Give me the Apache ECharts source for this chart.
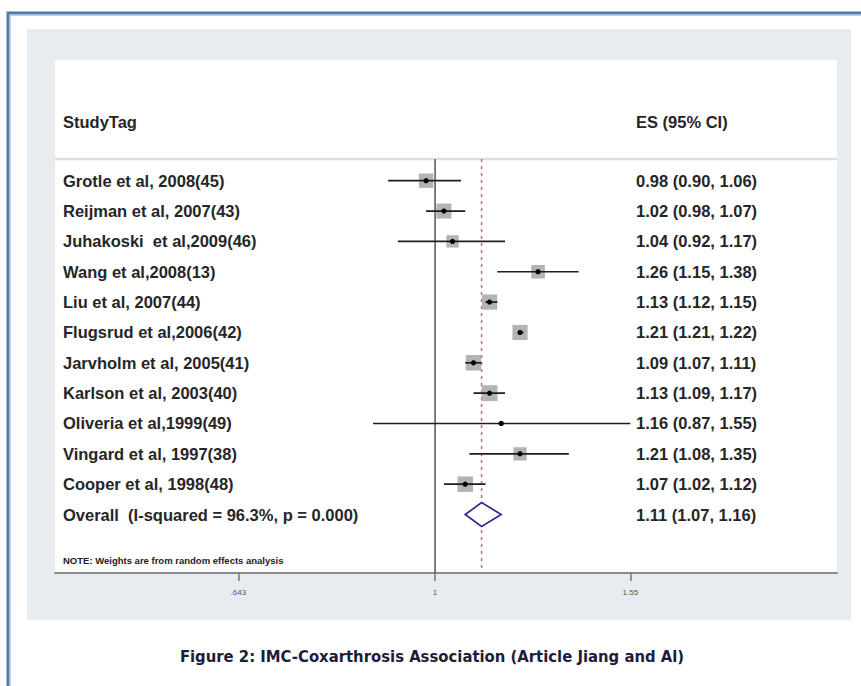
<!DOCTYPE html>
<html style="height: 100%">
<head>
    <meta charset="utf-8">
    <script src="https://cdn.jsdelivr.net/npm/echarts@6/dist/echarts.min.js"></script>
</head>
<body style="height: 100%; width: 100%; margin: 0; background-color: #ffffff;">

    <div id="container" style="width: 861px; height: 686px;"></div>

    <script type="text/javascript">

        // studies
        var studies = ['Grotle et al, 2008(45)', 'Reijman et al, 2007(43)', 'Juhakoski  et al,2009(46)',
            'Wang et al,2008(13)', 'Liu et al, 2007(44)', 'Flugsrud et al,2006(42)', 'Jarvholm et al, 2005(41)',
            'Karlson et al, 2003(40)', 'Oliveria et al,1999(49)', 'Vingard et al, 1997(38)', 'Cooper et al, 1998(48)'];
        var es = [0.98, 1.02, 1.04, 1.26, 1.13, 1.21, 1.09, 1.13, 1.16, 1.21, 1.07];
        var lower = [0.90, 0.98, 0.92, 1.15, 1.12, 1.21, 1.07, 1.09, 0.87, 1.08, 1.02];
        var upper = [1.06, 1.07, 1.17, 1.38, 1.15, 1.22, 1.11, 1.17, 1.55, 1.35, 1.12];
        // relative weights (%)
        var weights = [9.0, 9.8, 6.6, 8.0, 10.0, 10.0, 10.4, 11.0, 1.0, 7.6, 10.4];

        var overallLabel = 'Overall  (I-squared = 96.3%, p = 0.000)';
        var overallES = 1.11;
        var overallLower = 1.07;
        var overallUpper = 1.16;

        var xTickValues = [0.643, 1, 1.55];
        var xTickLabels = ['.643', '1', '1.55'];

        var noteText = 'NOTE: Weights are from random effects analysis';
        var caption = 'Figure 2: IMC-Coxarthrosis Association (Article Jiang and Al)';

        var n = studies.length;
        var txtFont = 'Liberation Sans, Arial, sans-serif';

        function fmt(e, l, u) {
            return e.toFixed(2) + ' (' + l.toFixed(2) + ', ' + u.toFixed(2) + ')';
        }

        var rows = [];
        for (var i = 0; i < n; i++) {
            rows.push([i, Math.log(es[i]), Math.log(lower[i]), Math.log(upper[i]), weights[i]]);
        }

        var textRows = [];
        for (var i = 0; i < n; i++) {
            textRows.push([i, studies[i], fmt(es[i], lower[i], upper[i])]);
        }
        textRows.push([n, overallLabel, fmt(overallES, overallLower, overallUpper)]);
        textRows.push([-1.95, 'StudyTag', 'ES (95% CI)']);

        var dom = document.getElementById('container');
        var myChart = echarts.init(dom, null, { renderer: 'svg' });

        var logTicks = xTickValues.map(function (v) { return Math.log(v); });

        var option = {
            animation: false,
            backgroundColor: '#ffffff',
            graphic: [
                {
                    type: 'rect', z: -10,
                    shape: { x: 27, y: 29, width: 824, height: 591 },
                    style: { fill: '#e7ecf0' }
                },
                {
                    type: 'polyline', z: 10,
                    shape: { points: [[8, 686], [8, 13], [861, 13]] },
                    style: { stroke: '#4f7bab', lineWidth: 3, fill: null }
                },
                {
                    type: 'polyline', z: 10,
                    shape: { points: [[10.5, 686], [10.5, 15.5], [861, 15.5]] },
                    style: { stroke: '#b9cde0', lineWidth: 1, fill: null }
                },
                {
                    type: 'text', z: 10,
                    x: 432, y: 656,
                    style: {
                        text: caption,
                        fill: '#1d1d3a',
                        font: 'bold 16.5px "Liberation Sans Narrow", "DejaVu Sans Condensed", sans-serif',
                        textAlign: 'center',
                        textVerticalAlign: 'middle'
                    }
                }
            ],
            grid: {
                left: 55,
                right: 24,
                top: 60,
                bottom: 113,
                show: true,
                backgroundColor: '#ffffff',
                borderWidth: 0
            },
            xAxis: {
                type: 'value',
                min: -0.853,
                max: 0.902,
                axisLine: { show: true, onZero: false, lineStyle: { color: '#8c8c8c', width: 2 } },
                axisTick: {
                    show: true,
                    length: 8,
                    customValues: logTicks,
                    lineStyle: { color: '#777', width: 1.5 }
                },
                axisLabel: {
                    show: true,
                    margin: 15,
                    fontSize: 8,
                    color: '#555',
                    fontFamily: txtFont,
                    customValues: logTicks,
                    formatter: function (v) {
                        for (var k = 0; k < logTicks.length; k++) {
                            if (Math.abs(logTicks[k] - v) < 1e-6) {
                                return xTickLabels[k];
                            }
                        }
                        return '';
                    }
                },
                splitLine: { show: false }
            },
            yAxis: {
                type: 'value',
                inverse: true,
                min: -3.977,
                max: 12.926,
                show: false
            },
            series: [
                {
                    // header rule, reference line at 1, overall dashed line
                    type: 'custom',
                    z: 1,
                    data: [[overallES]],
                    renderItem: function (params, api) {
                        var cs = params.coordSys;
                        var hy = api.coord([0, -0.715])[1];
                        var p0 = api.coord([0, -0.715]);
                        var p1 = api.coord([0, 12.926]);
                        var d0 = api.coord([Math.log(api.value(0)), -0.715]);
                        var d1 = api.coord([Math.log(api.value(0)), 12.926]);
                        return {
                            type: 'group',
                            children: [
                                {
                                    type: 'line',
                                    shape: { x1: cs.x, y1: hy, x2: cs.x + cs.width, y2: hy },
                                    style: { stroke: '#dedede', lineWidth: 2.5 }
                                },
                                {
                                    type: 'line',
                                    shape: { x1: p0[0], y1: p0[1], x2: p1[0], y2: p1[1] },
                                    style: { stroke: '#555', lineWidth: 1.5 }
                                },
                                {
                                    type: 'line',
                                    shape: { x1: d0[0], y1: d0[1], x2: d1[0], y2: d1[1] },
                                    style: { stroke: '#c46a7a', lineWidth: 1.5, lineDash: [3, 4] }
                                }
                            ]
                        };
                    }
                },
                {
                    // study boxes, confidence intervals and point estimates
                    type: 'custom',
                    z: 2,
                    data: rows,
                    renderItem: function (params, api) {
                        var y = api.value(0);
                        var c = api.coord([api.value(1), y]);
                        var l = api.coord([api.value(2), y]);
                        var u = api.coord([api.value(3), y]);
                        var s = 4.8 * Math.sqrt(api.value(4));
                        return {
                            type: 'group',
                            children: [
                                {
                                    type: 'rect',
                                    shape: { x: c[0] - s / 2, y: c[1] - s / 2, width: s, height: s },
                                    style: { fill: '#b3b3b3' }
                                },
                                {
                                    type: 'line',
                                    shape: { x1: l[0], y1: l[1], x2: u[0], y2: u[1] },
                                    style: { stroke: '#1e1e1e', lineWidth: 1.7 }
                                },
                                {
                                    type: 'circle',
                                    shape: { cx: c[0], cy: c[1], r: 2.6 },
                                    style: { fill: '#000' }
                                }
                            ]
                        };
                    }
                },
                {
                    // overall diamond
                    type: 'custom',
                    z: 3,
                    data: [[n, Math.log(overallES), Math.log(overallLower), Math.log(overallUpper)]],
                    renderItem: function (params, api) {
                        var y = api.value(0);
                        var pts = [
                            api.coord([api.value(2), y]),
                            api.coord([api.value(1), y - 0.395]),
                            api.coord([api.value(3), y]),
                            api.coord([api.value(1), y + 0.395])
                        ];
                        return {
                            type: 'polygon',
                            shape: { points: pts },
                            style: { fill: '#ffffff', stroke: '#2d2d8f', lineWidth: 1.7 }
                        };
                    }
                },
                {
                    // label and ES columns
                    type: 'custom',
                    z: 4,
                    data: textRows,
                    renderItem: function (params, api) {
                        var cs = params.coordSys;
                        var row = textRows[params.dataIndex];
                        var y = api.coord([0, row[0]])[1];
                        return {
                            type: 'group',
                            children: [
                                {
                                    type: 'text',
                                    x: cs.x + 8, y: y,
                                    style: {
                                        text: row[1], fill: '#262626',
                                        font: 'bold 16.5px ' + txtFont,
                                        textAlign: 'left', textVerticalAlign: 'middle'
                                    }
                                },
                                {
                                    type: 'text',
                                    x: cs.x + 581, y: y,
                                    style: {
                                        text: row[2], fill: '#262626',
                                        font: 'bold 16.5px ' + txtFont,
                                        textAlign: 'left', textVerticalAlign: 'middle'
                                    }
                                }
                            ]
                        };
                    }
                },
                {
                    // note under the plot
                    type: 'custom',
                    z: 4,
                    data: [[12.52]],
                    renderItem: function (params, api) {
                        var cs = params.coordSys;
                        var y = api.coord([0, api.value(0)])[1];
                        return {
                            type: 'text',
                            x: cs.x + 8, y: y,
                            style: {
                                text: noteText, fill: '#222',
                                font: 'bold 9.5px ' + txtFont,
                                textAlign: 'left', textVerticalAlign: 'middle'
                            }
                        };
                    }
                }
            ]
        };

        myChart.setOption(option, true);

    </script>
</body>
</html>
